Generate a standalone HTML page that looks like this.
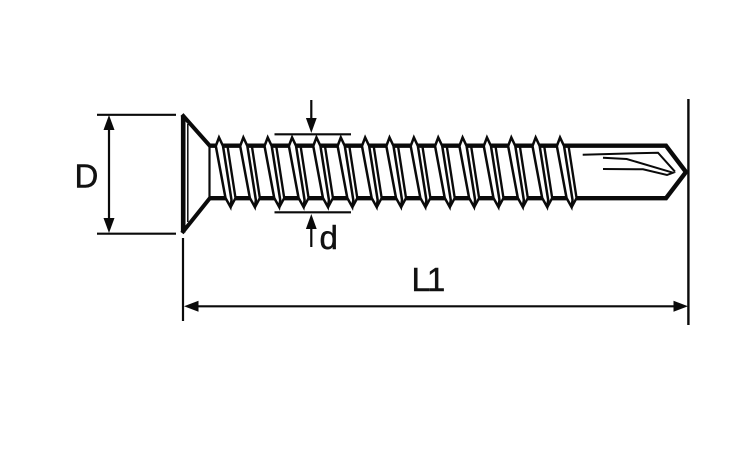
<!DOCTYPE html>
<html><head><meta charset="utf-8"><style>
html,body{margin:0;padding:0;background:#fff;width:750px;height:450px;overflow:hidden}
svg{display:block}
text{font-family:"Liberation Sans",sans-serif;font-size:33px;fill:#111;stroke:#111;stroke-width:.5px}
</style></head><body>
<svg width="750" height="450" viewBox="0 0 750 450" xmlns="http://www.w3.org/2000/svg" xmlns:xlink="http://www.w3.org/1999/xlink">
<defs>
<g id="t">
<path d="M215.5 146 L219 137 L224 146 L235.5 198 L230.5 207.5 L225 198 Z" fill="#fff" stroke="none"/>
<path d="M215.8 146 L219 137.5 L223 146 L231.5 200 L230.5 207 L225.5 198 Z" fill="#fff" stroke="#0a0a0a" stroke-width="2.5" stroke-linejoin="miter"/>
<path d="M227.5 146 L235.5 198 L230.5 207.5" fill="none" stroke="#0a0a0a" stroke-width="2.4"/>
</g>
</defs>
<rect width="750" height="450" fill="#fff"/>
<g stroke="#0a0a0a" fill="none">
<path d="M97 114.8H176M97 233.7H176" stroke-width="2.2"/>
<path d="M109 124V224" stroke-width="2.2"/>
<path d="M183.2 116V232.5" stroke-width="4.6"/>
<path d="M187.8 124V222" stroke-width="1.5"/>
<path d="M182 114.5L210 146M182 233L210 198" stroke-width="4"/>
<path d="M209.5 145V198.5" stroke-width="2.2"/>
<path d="M209 145.7H666L686 172L666 198.2H209" stroke-width="4.4" stroke-linejoin="miter"/>
<path d="M582.7 154.7L658 152.7L675 171.7" stroke-width="2"/>
<path d="M603 157.7L626.7 159L673 172.7L667 175L643 169.3L603 169" stroke-width="2"/>
<path d="M183 238V321" stroke-width="2.2"/>
<path d="M688.4 99V325" stroke-width="2.4"/>
<path d="M195 306.3H676" stroke-width="2.2"/>
<path d="M274.5 134.3H351M274.5 212.3H351" stroke-width="2.2"/>
<path d="M311.3 100V122M311.3 225V247" stroke-width="2.2"/>
</g>
<g fill="#0a0a0a">
<path d="M109 115L114.5 130H103.5Z"/>
<path d="M109 233L114.5 218H103.5Z"/>
<path d="M184 306.3L198.5 300.8V311.8Z"/>
<path d="M688 306.3L673.5 300.8V311.8Z"/>
<path d="M311.3 133L305.9 118H316.7Z"/>
<path d="M311.3 214L305.9 229H316.7Z"/>
</g>
<use xlink:href="#t" href="#t" x="0"/>
<use xlink:href="#t" href="#t" x="24.36"/>
<use xlink:href="#t" href="#t" x="48.72"/>
<use xlink:href="#t" href="#t" x="73.08"/>
<use xlink:href="#t" href="#t" x="97.44"/>
<use xlink:href="#t" href="#t" x="121.8"/>
<use xlink:href="#t" href="#t" x="146.16"/>
<use xlink:href="#t" href="#t" x="170.52"/>
<use xlink:href="#t" href="#t" x="194.88"/>
<use xlink:href="#t" href="#t" x="219.24"/>
<use xlink:href="#t" href="#t" x="243.6"/>
<use xlink:href="#t" href="#t" x="267.96"/>
<use xlink:href="#t" href="#t" x="292.32"/>
<use xlink:href="#t" href="#t" x="316.68"/>
<use xlink:href="#t" href="#t" x="341.04"/>
<text x="74.5" y="187.5">D</text>
<text x="319.5" y="249">d</text>
<text x="411.5" y="291" style="font-size:33px;letter-spacing:-3px">L1</text>
</svg>
</body></html>
